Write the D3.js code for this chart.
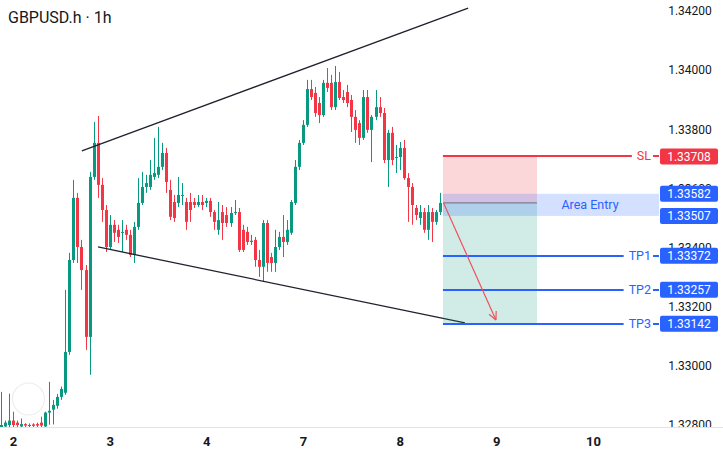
<!DOCTYPE html>
<html>
<head>
<meta charset="utf-8">
<script src="https://cdn.jsdelivr.net/npm/d3@7"></script>
<style>
  html, body { margin: 0; padding: 0; background: #fff; }
  svg { display: block; font-family: Roboto, "Noto Sans", sans-serif; }
</style>
</head>
<body>
<div id="chart"></div>
<script>
const width = 723, height = 455;

// candles, hourly, first candle sits 3 bars before day "2"
const firstIndex = -3;
const opens = [
  1.32790, 1.32795, 1.32800, 1.32815, 1.32808, 1.32795, 1.32803, 1.32798, 1.32802, 1.32803, 1.32808, 1.32795, 1.32842, 1.32852, 1.32865, 1.32895,
  1.32909, 1.33047, 1.33358, 1.33568, 1.33402, 1.33324, 1.33098, 1.33639,
  1.33754, 1.33612, 1.33527, 1.33402, 1.33477, 1.33460, 1.33450, 1.33460, 1.33443, 1.33375,
  1.33470, 1.33551, 1.33605, 1.33605, 1.33639, 1.33646, 1.33673, 1.33720, 1.33595, 1.33554,
  1.33551, 1.33575, 1.33554, 1.33554, 1.33554, 1.33544, 1.33554, 1.33551, 1.33558, 1.33520,
  1.33460, 1.33520, 1.33510, 1.33483, 1.33517, 1.33520, 1.33460, 1.33453, 1.33419, 1.33426,
  1.33358, 1.33335, 1.33483, 1.33368, 1.33348, 1.33402, 1.33436, 1.33419, 1.33450, 1.33551,
  1.33673, 1.33754, 1.33815, 1.33936, 1.33923, 1.33889, 1.33848, 1.33957, 1.33957, 1.33875,
  1.33960, 1.33909, 1.33926, 1.33899, 1.33842, 1.33821, 1.33771, 1.33909, 1.33798, 1.33842,
  1.33875, 1.33855, 1.33696, 1.33788, 1.33703, 1.33706, 1.33737, 1.33635, 1.33605, 1.33534,
  1.33500, 1.33520, 1.33460, 1.33520, 1.33487, 1.33520
];
const highs = [
  1.32912, 1.32815, 1.32906, 1.32845, 1.32815, 1.32822, 1.32806, 1.32805, 1.32806, 1.32808, 1.32828, 1.32845, 1.32946, 1.32885, 1.32905, 1.32930,
  1.33257, 1.33382, 1.33629, 1.33585, 1.33426, 1.33341, 1.33656, 1.33825,
  1.33845, 1.33635, 1.33544, 1.33510, 1.33493, 1.33477, 1.33493, 1.33477, 1.33460, 1.33487,
  1.33635, 1.33656, 1.33646, 1.33696, 1.33771, 1.33808, 1.33754, 1.33737, 1.33629, 1.33578,
  1.33639, 1.33618, 1.33568, 1.33585, 1.33568, 1.33578, 1.33578, 1.33568, 1.33568, 1.33527,
  1.33554, 1.33544, 1.33537, 1.33537, 1.33561, 1.33534, 1.33477, 1.33470, 1.33443, 1.33436,
  1.33392, 1.33493, 1.33493, 1.33382, 1.33460, 1.33453, 1.33510, 1.33493, 1.33561, 1.33696,
  1.33764, 1.33831, 1.33967, 1.33967, 1.33943, 1.33909, 1.33967, 1.34007, 1.33984, 1.34014,
  1.33994, 1.33933, 1.33950, 1.33916, 1.33865, 1.33831, 1.33933, 1.33933, 1.33848, 1.33933,
  1.33909, 1.33872, 1.33798, 1.33808, 1.33747, 1.33757, 1.33764, 1.33652, 1.33618, 1.33544,
  1.33544, 1.33534, 1.33544, 1.33534, 1.33527, 1.33585
];
const lows = [
  1.32780, 1.32785, 1.32790, 1.32790, 1.32790, 1.32785, 1.32790, 1.32792, 1.32790, 1.32790, 1.32790, 1.32790, 1.32801, 1.32802, 1.32855, 1.32885,
  1.32902, 1.33037, 1.33348, 1.33348, 1.33257, 1.33054, 1.32970, 1.33629,
  1.33568, 1.33487, 1.33385, 1.33392, 1.33419, 1.33416, 1.33385, 1.33426, 1.33368, 1.33348,
  1.33460, 1.33544, 1.33585, 1.33595, 1.33629, 1.33635, 1.33662, 1.33585, 1.33493, 1.33487,
  1.33537, 1.33544, 1.33460, 1.33487, 1.33534, 1.33537, 1.33527, 1.33537, 1.33504, 1.33460,
  1.33443, 1.33426, 1.33470, 1.33470, 1.33510, 1.33385, 1.33385, 1.33409, 1.33409, 1.33335,
  1.33301, 1.33284, 1.33318, 1.33318, 1.33318, 1.33392, 1.33368, 1.33409, 1.33443, 1.33544,
  1.33662, 1.33747, 1.33808, 1.33899, 1.33842, 1.33821, 1.33842, 1.33926, 1.33865, 1.33865,
  1.33899, 1.33889, 1.33875, 1.33791, 1.33754, 1.33747, 1.33764, 1.33788, 1.33689, 1.33831,
  1.33842, 1.33686, 1.33605, 1.33679, 1.33652, 1.33662, 1.33629, 1.33487, 1.33477, 1.33493,
  1.33477, 1.33450, 1.33426, 1.33419, 1.33477, 1.33510
];
const closes = [
  1.32800, 1.32808, 1.32815, 1.32800, 1.32800, 1.32803, 1.32798, 1.32800, 1.32797, 1.32798, 1.32798, 1.32842, 1.32848, 1.32868, 1.32895, 1.32922,
  1.33047, 1.33358, 1.33568, 1.33402, 1.33324, 1.33098, 1.33639, 1.33754,
  1.33612, 1.33527, 1.33402, 1.33477, 1.33450, 1.33436, 1.33453, 1.33443, 1.33375, 1.33470,
  1.33551, 1.33605, 1.33618, 1.33646, 1.33652, 1.33673, 1.33720, 1.33622, 1.33504, 1.33500,
  1.33578, 1.33578, 1.33487, 1.33527, 1.33544, 1.33554, 1.33544, 1.33558, 1.33520, 1.33487,
  1.33493, 1.33483, 1.33483, 1.33517, 1.33520, 1.33392, 1.33392, 1.33419, 1.33423, 1.33358,
  1.33335, 1.33483, 1.33348, 1.33348, 1.33402, 1.33436, 1.33419, 1.33460, 1.33554, 1.33673,
  1.33754, 1.33815, 1.33936, 1.33909, 1.33855, 1.33848, 1.33957, 1.33940, 1.33875, 1.33960,
  1.33906, 1.33899, 1.33889, 1.33842, 1.33798, 1.33771, 1.33909, 1.33798, 1.33842, 1.33875,
  1.33855, 1.33696, 1.33788, 1.33696, 1.33706, 1.33737, 1.33635, 1.33605, 1.33544, 1.33510,
  1.33520, 1.33460, 1.33520, 1.33487, 1.33520, 1.33551
];

// axes
const dayTicks = [0, 24, 48, 72, 96, 120, 144];
const dayLabels = ["2", "3", "4", "7", "8", "9", "10"];
const priceTicks = [1.328, 1.330, 1.332, 1.334, 1.336, 1.338, 1.340, 1.342];

// drawings: [bar index, price]
const trendUpper = [[17.1, 1.33727], [113.0, 1.34210]];
const trendLower = [[21.1, 1.33402], [112.2, 1.33145]];
const arrowPath = [[106.9, 1.33551], [119.9, 1.33155]];

// position tool
const positionStart = 106.75, positionEnd = 130.1;
const entryPrice = 1.33551;
const entryZone = [1.33582, 1.33507];
const levelNames = ["SL", "TP1", "TP2", "TP3"];
const levelPrices = [1.33708, 1.33372, 1.33257, 1.33142];

const upColor = "#089981", downColor = "#f23645", blue = "#2962ff", textColor = "#131722";

const x = d3.scaleLinear().domain([0, 144]).range([13, 593]);
const y = d3.scaleLinear().domain([1.328, 1.342]).range([425, 11]);
const plotRight = 659, plotBottom = 427;

const svg = d3.select("#chart").append("svg")
    .attr("width", width)
    .attr("height", height);

svg.append("rect").attr("width", width).attr("height", height).attr("fill", "#fff");

const defs = svg.append("defs");
defs.append("clipPath").attr("id", "plot-clip")
    .append("rect").attr("x", 0).attr("y", 0).attr("width", plotRight).attr("height", plotBottom);
defs.append("clipPath").attr("id", "axis-clip")
    .append("rect").attr("x", 0).attr("y", 0).attr("width", width).attr("height", plotBottom);

const plot = svg.append("g").attr("clip-path", "url(#plot-clip)");

// watermark ring, bottom left (very faint)
plot.append("circle")
    .attr("cx", 28.5).attr("cy", 399).attr("r", 16)
    .attr("fill", "none").attr("stroke", "#ededed").attr("stroke-width", 1.2);

// Candles
const candles = opens.map((o, i) => ({
    i: firstIndex + i, o, h: highs[i], l: lows[i], c: closes[i]
}));

const cg = plot.append("g");
cg.selectAll("line.wick")
    .data(candles)
    .enter().append("line")
    .attr("class", "wick")
    .attr("x1", d => Math.round(x(d.i)) + 0.5)
    .attr("x2", d => Math.round(x(d.i)) + 0.5)
    .attr("y1", d => y(d.h))
    .attr("y2", d => y(d.l))
    .attr("stroke", d => d.c >= d.o ? upColor : downColor)
    .attr("stroke-width", 1);

cg.selectAll("rect.body")
    .data(candles)
    .enter().append("rect")
    .attr("class", "body")
    .attr("x", d => Math.round(x(d.i)) - 1)
    .attr("width", 3)
    .attr("y", d => y(Math.max(d.o, d.c)))
    .attr("height", d => Math.max(1, Math.abs(y(d.o) - y(d.c))))
    .attr("fill", d => d.c >= d.o ? upColor : downColor);

// Trend lines
const line = d3.line().x(d => x(d[0])).y(d => y(d[1]));
[trendUpper, trendLower].forEach(t => {
    plot.append("path")
        .attr("d", line(t))
        .attr("fill", "none")
        .attr("stroke", "#1e222d")
        .attr("stroke-width", 1.3);
});

// Position tool: risk / reward boxes
const px0 = x(positionStart), px1 = x(positionEnd);
plot.append("rect")
    .attr("x", px0).attr("width", px1 - px0)
    .attr("y", y(levelPrices[0])).attr("height", y(entryPrice) - y(levelPrices[0]))
    .attr("fill", "rgba(242,54,69,0.2)");
plot.append("rect")
    .attr("x", px0).attr("width", px1 - px0)
    .attr("y", y(entryPrice)).attr("height", y(levelPrices[3]) - y(entryPrice))
    .attr("fill", "rgba(8,153,129,0.19)");

// Area entry band
plot.append("rect")
    .attr("x", px0).attr("width", plotRight - px0)
    .attr("y", y(entryZone[0])).attr("height", y(entryZone[1]) - y(entryZone[0]))
    .attr("fill", "rgba(41,98,255,0.2)");
plot.append("text")
    .attr("x", 590).attr("y", y((entryZone[0] + entryZone[1]) / 2))
    .attr("dy", "0.35em")
    .attr("text-anchor", "middle")
    .attr("fill", blue)
    .style("font-size", "12.5px")
    .text("Area Entry");

// entry line
plot.append("line")
    .attr("x1", px0).attr("x2", px1)
    .attr("y1", y(entryPrice)).attr("y2", y(entryPrice))
    .attr("stroke", "#6a6d78").attr("stroke-width", 1);

// SL / TP lines with names
levelNames.forEach((name, k) => {
    const col = k === 0 ? downColor : blue;
    const yy = Math.round(y(levelPrices[k]));
    plot.append("line")
        .attr("x1", px0).attr("x2", plotRight)
        .attr("y1", yy).attr("y2", yy)
        .attr("stroke", col).attr("stroke-width", 2);
    const bg = plot.append("rect").attr("fill", "#fff");
    const t = plot.append("text")
        .attr("x", 651).attr("y", yy)
        .attr("dy", "0.35em")
        .attr("text-anchor", "end")
        .attr("fill", col)
        .style("font-size", "12.5px")
        .text(name);
    const w = t.node().getComputedTextLength();
    bg.attr("x", 651 - w - 5).attr("width", w + 7).attr("y", yy - 8).attr("height", 16);
});

// arrow
const a0 = [x(arrowPath[0][0]), y(arrowPath[0][1])];
const a1 = [x(arrowPath[1][0]), y(arrowPath[1][1])];
plot.append("line")
    .attr("x1", a0[0]).attr("y1", a0[1]).attr("x2", a1[0]).attr("y2", a1[1])
    .attr("stroke", "#f0515e").attr("stroke-width", 1.2);
const ang = Math.atan2(a1[1] - a0[1], a1[0] - a0[0]);
[-0.45, 0.45].forEach(s => {
    plot.append("line")
        .attr("x1", a1[0]).attr("y1", a1[1])
        .attr("x2", a1[0] - 9 * Math.cos(ang + s))
        .attr("y2", a1[1] - 9 * Math.sin(ang + s))
        .attr("stroke", "#f0515e").attr("stroke-width", 1.2);
});

// Price axis
const yAxis = svg.append("g")
    .attr("transform", `translate(666,0)`)
    .attr("clip-path", "url(#axis-clip)")
    .call(d3.axisRight(y).tickValues(priceTicks).tickSize(0).tickFormat(d3.format(".5f")));
yAxis.select(".domain").remove();
yAxis.selectAll("text")
    .attr("x", 24)
    .attr("text-anchor", "middle")
    .attr("fill", textColor)
    .style("font-family", "Roboto, sans-serif")
    .style("font-size", "12px");

// price tags
const tagPrices = [levelPrices[0], entryZone[0], entryZone[1], levelPrices[1], levelPrices[2], levelPrices[3]];
const tagColors = [downColor, blue, blue, blue, blue, blue];
tagPrices.forEach((p, k) => {
    const yy = y(p);
    svg.append("rect")
        .attr("x", 660).attr("y", yy - 8)
        .attr("width", 58).attr("height", 16).attr("rx", 2)
        .attr("fill", tagColors[k]);
    svg.append("text")
        .attr("x", 689).attr("y", yy)
        .attr("dy", "0.36em")
        .attr("text-anchor", "middle")
        .attr("fill", "#fff")
        .style("font-size", "12px")
        .text(d3.format(".5f")(p));
});

// Time axis
svg.append("line")
    .attr("x1", 0).attr("x2", width)
    .attr("y1", plotBottom + 0.5).attr("y2", plotBottom + 0.5)
    .attr("stroke", "#e0e3eb");
const xAxis = svg.append("g")
    .attr("transform", `translate(0,${plotBottom})`)
    .call(d3.axisBottom(x).tickValues(dayTicks).tickSize(0).tickPadding(10)
        .tickFormat((d, i) => dayLabels[i]));
xAxis.select(".domain").remove();
xAxis.selectAll("text")
    .attr("fill", textColor)
    .style("font-family", "Roboto, sans-serif")
    .style("font-size", "13px")
    .style("font-weight", "bold");

// Title
svg.append("text")
    .attr("x", 8).attr("y", 23)
    .attr("fill", textColor)
    .style("font-size", "16px")
    .text("GBPUSD.h · 1h");
</script>
</body>
</html>
